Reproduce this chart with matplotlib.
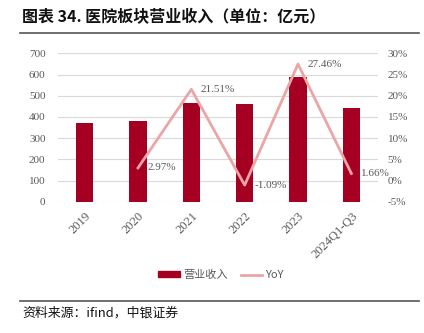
import matplotlib
matplotlib.use("Agg")
from matplotlib import pyplot as plt
from matplotlib.lines import Line2D
from matplotlib.patches import Patch

years = ['2019', '2020', '2021', '2022', '2023', '2024Q1-Q3']
revenue = [370, 382, 464, 459, 587, 443]
yoy_years = ['2020', '2021', '2022', '2023', '2024Q1-Q3']
yoy = [2.97, 21.51, -1.09, 27.46, 1.66]
left_ticks = [0, 100, 200, 300, 400, 500, 600, 700]
right_ticks = [-5, 0, 5, 10, 15, 20, 25, 30]

bar_color = '#a50021'
line_color = '#eba5a5'
tick_color = '#595959'
serif = ['Liberation Serif', 'Noto Sans CJK SC']
cjk = ['Noto Sans CJK SC', 'DejaVu Sans']

fig = plt.figure(figsize=(4.24, 3.33), dpi=100)
ax = fig.add_axes([58 / 424, 1 - 201.7 / 333, 320 / 424, 148.4 / 333])
ax2 = ax.twinx()

x = list(range(len(years)))
ax.bar(x, revenue, width=0.32, color=bar_color, zorder=3)
ax.set_ylim(0, 700)
ax.set_xlim(-0.5, len(years) - 0.5)
ax.set_yticks(left_ticks)
ax.set_yticklabels([str(t) for t in left_ticks], family=serif, fontsize=8, color=tick_color)
ax.grid(axis='y', color='#d9d9d9', linewidth=0.8, zorder=0)
ax.set_xticks(x)
ax.set_xticklabels(years, rotation=45, ha='right', rotation_mode='anchor',
                   family=serif, fontsize=9, color=tick_color)
ax.tick_params(axis='y', length=0, pad=9)
ax.tick_params(axis='x', length=0, pad=6)

yx = [years.index(y) for y in yoy_years]
ax2.plot(yx, yoy, color=line_color, linewidth=2, zorder=4)
for xi, v in zip(yx, yoy):
    ax2.annotate(f'{v:.2f}%', (xi, v), xytext=(7, 0), textcoords='offset points',
                 ha='left', va='center', family=serif, fontsize=8, color=tick_color)
ax2.set_ylim(-5, 30)
ax2.set_yticks(right_ticks)
ax2.set_yticklabels([f'{t}%' for t in right_ticks], family=serif, fontsize=8, color=tick_color)
ax2.tick_params(length=0, pad=7)

for a in (ax, ax2):
    for s in a.spines.values():
        s.set_visible(False)

handles = [Patch(color=bar_color), Line2D([0], [0], color=line_color, linewidth=2)]
leg = fig.legend(handles, ['营业收入', 'YoY'], loc='center', bbox_to_anchor=(221 / 424, 1 - 275 / 333),
                 ncol=2, frameon=False, prop={'family': cjk, 'size': 8},
                 handlelength=1.9, handleheight=0.5, columnspacing=1.2, handletextpad=0.3)
for t in leg.get_texts():
    t.set_color(tick_color)

fig.text(22 / 424, 1 - 17 / 333, '图表 34. 医院板块营业收入（单位：亿元）', family=cjk,
         fontsize=11.5, fontweight='bold', ha='left', va='center', color='#111111')
fig.text(22 / 424, 1 - 313 / 333, '资料来源：ifind，中银证券', family=cjk,
         fontsize=9.3, style='italic', ha='left', va='center', color='#111111')
fig.add_artist(Line2D([20 / 424, 419 / 424], [1 - 32.7 / 333] * 2, color='#555555', linewidth=1.2))
fig.add_artist(Line2D([20 / 424, 419 / 424], [1 - 301 / 333] * 2, color='#555555', linewidth=1.2))

plt.savefig('out.png', dpi=100)
